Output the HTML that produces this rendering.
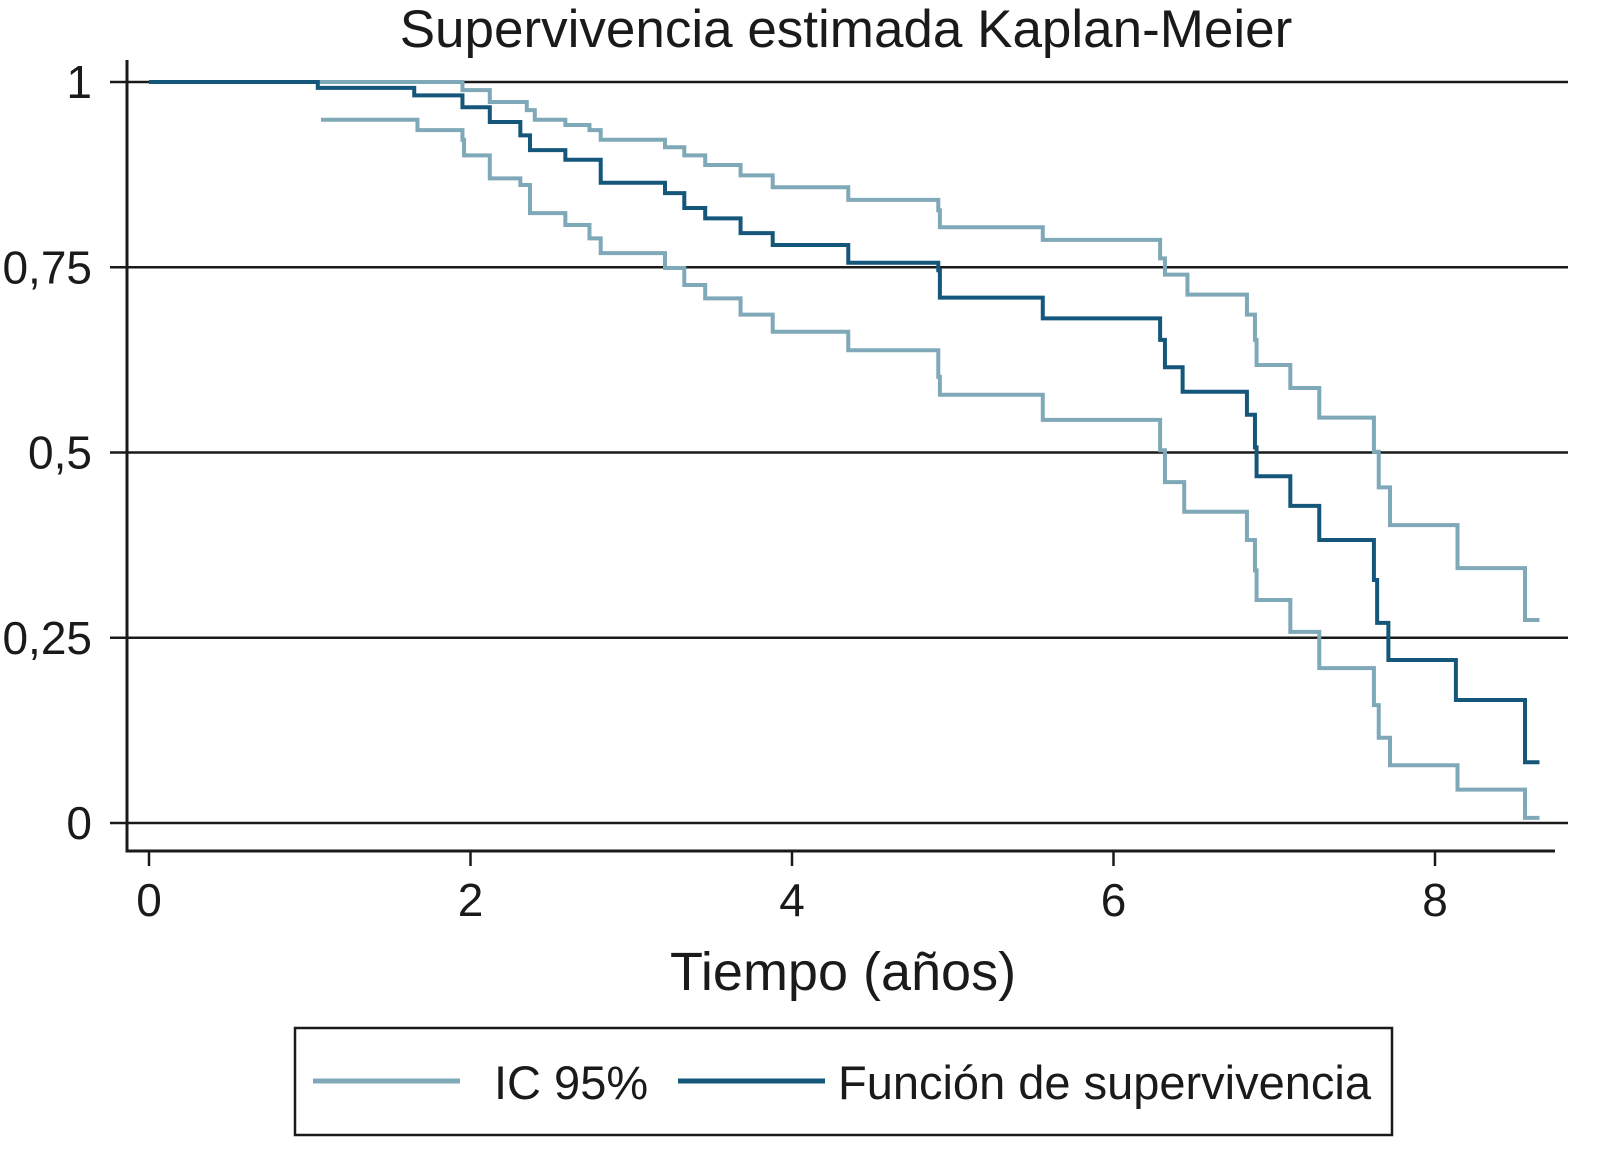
<!DOCTYPE html>
<html><head><meta charset="utf-8"><style>
html,body{margin:0;padding:0;background:#fff;}
svg{display:block;font-family:"Liberation Sans",sans-serif;}
</style></head><body>
<svg id="chart" width="1608" height="1166" viewBox="0 0 1608 1166">
<text x="846" y="47" font-size="53" text-anchor="middle" fill="#1a1a1a">Supervivencia estimada Kaplan-Meier</text>
<g id="grid"></g>
<g id="axes"></g>
<g id="series"></g>
<text x="843" y="990" font-size="54" text-anchor="middle" fill="#1a1a1a">Tiempo (años)</text>
<g>
<rect x="295" y="1028" width="1097" height="107" fill="none" stroke="#1a1a1a" stroke-width="2.5"/>
<line x1="313" y1="1081" x2="460" y2="1081" stroke="#7fa8b8" stroke-width="5"/>
<text x="494" y="1099" font-size="47" fill="#1a1a1a">IC 95%</text>
<line x1="678" y1="1081" x2="825" y2="1081" stroke="#14577a" stroke-width="5"/>
<text x="838" y="1099" font-size="47" fill="#1a1a1a">Función de supervivencia</text>
</g>
</svg>
<script>
const yTicks=[0,0.25,0.5,0.75,1];
const yTickLabels=["0","0,25","0,5","0,75","1"];
const xTicks=[0,2,4,6,8];
const xTickLabels=["0","2","4","6","8"];
const survTimes=[0,1.05,1.65,1.95,2.12,2.31,2.37,2.59,2.81,3.21,3.33,3.46,3.68,3.88,4.35,4.91,4.92,5.56,6.29,6.32,6.43,6.83,6.88,6.89,7.10,7.28,7.62,7.64,7.71,8.13,8.56];
const survValues=[1,0.992,0.982,0.966,0.946,0.928,0.908,0.895,0.864,0.850,0.830,0.816,0.796,0.780,0.756,0.746,0.709,0.681,0.652,0.615,0.582,0.551,0.507,0.468,0.428,0.382,0.328,0.270,0.220,0.166,0.082];
const upperTimes=[0,1.95,2.12,2.35,2.40,2.59,2.74,2.81,3.21,3.33,3.46,3.68,3.88,4.35,4.91,4.92,5.56,6.29,6.32,6.46,6.83,6.88,6.89,7.10,7.28,7.62,7.65,7.72,8.14,8.56];
const upperValues=[1,0.989,0.973,0.962,0.949,0.942,0.935,0.922,0.912,0.901,0.888,0.874,0.858,0.841,0.827,0.804,0.787,0.762,0.740,0.713,0.686,0.652,0.618,0.587,0.547,0.501,0.453,0.402,0.344,0.274];
const lowerTimes=[1.07,1.67,1.95,1.96,2.12,2.31,2.37,2.59,2.74,2.81,3.21,3.33,3.46,3.68,3.88,4.35,4.91,4.92,5.56,6.29,6.32,6.44,6.83,6.88,6.89,7.10,7.28,7.62,7.65,7.72,8.14,8.56];
const lowerValues=[0.949,0.935,0.922,0.901,0.870,0.861,0.823,0.807,0.789,0.769,0.749,0.726,0.708,0.686,0.663,0.638,0.602,0.578,0.544,0.503,0.460,0.420,0.382,0.341,0.301,0.258,0.209,0.159,0.115,0.078,0.045,0.007];
const tEnd=8.65;

const NS="http://www.w3.org/2000/svg";
const X0=149,XS=160.75,Y0=823,YS=741;
function xs(t){return X0+t*XS;}
function ys(v){return Y0-v*YS;}
function mk(tag,attrs,parent){const e=document.createElementNS(NS,tag);for(const k in attrs)e.setAttribute(k,attrs[k]);parent.appendChild(e);return e;}
const grid=document.getElementById('grid'),axes=document.getElementById('axes'),series=document.getElementById('series');

yTicks.forEach((v,i)=>{
  const g=mk('line',{x1:127,x2:1568,y1:ys(v),y2:ys(v),stroke:'#1a1a1a','stroke-width':2.5},grid);
  
  
  const tk=mk('line',{x1:110,x2:127,y1:ys(v),y2:ys(v),stroke:'#1a1a1a','stroke-width':2.5},axes);
  
  
  const tx=mk('text',{x:92,y:ys(v)+16,'font-size':46,'text-anchor':'end',fill:'#1a1a1a'},axes);
  tx.textContent=yTickLabels[i];
  
  
});
const ya=mk('line',{x1:127,x2:127,y1:60,y2:852,stroke:'#1a1a1a','stroke-width':3},axes);


const xa=mk('line',{x1:125.5,x2:1555,y1:851,y2:851,stroke:'#1a1a1a','stroke-width':3},axes);


xTicks.forEach((t,i)=>{
  const tk=mk('line',{x1:xs(t),x2:xs(t),y1:851,y2:866,stroke:'#1a1a1a','stroke-width':2.5},axes);
  
  
  const tx=mk('text',{x:xs(t),y:916,'font-size':46,'text-anchor':'middle',fill:'#1a1a1a'},axes);
  tx.textContent=xTickLabels[i];
  
  
});
function stepPath(ts,vs){
  let d='M'+xs(ts[0])+' '+ys(vs[0]);
  for(let i=1;i<ts.length;i++){d+=' H'+xs(ts[i])+' V'+ys(vs[i]);}
  d+=' H'+xs(tEnd);
  return d;
}
const up=mk('path',{d:stepPath(upperTimes,upperValues),fill:'none',stroke:'#7fa8b8','stroke-width':4},series);


const lo=mk('path',{d:stepPath(lowerTimes,lowerValues),fill:'none',stroke:'#7fa8b8','stroke-width':4},series);


const sv=mk('path',{d:stepPath(survTimes,survValues),fill:'none',stroke:'#14577a','stroke-width':4},series);


</script>
</body></html>
